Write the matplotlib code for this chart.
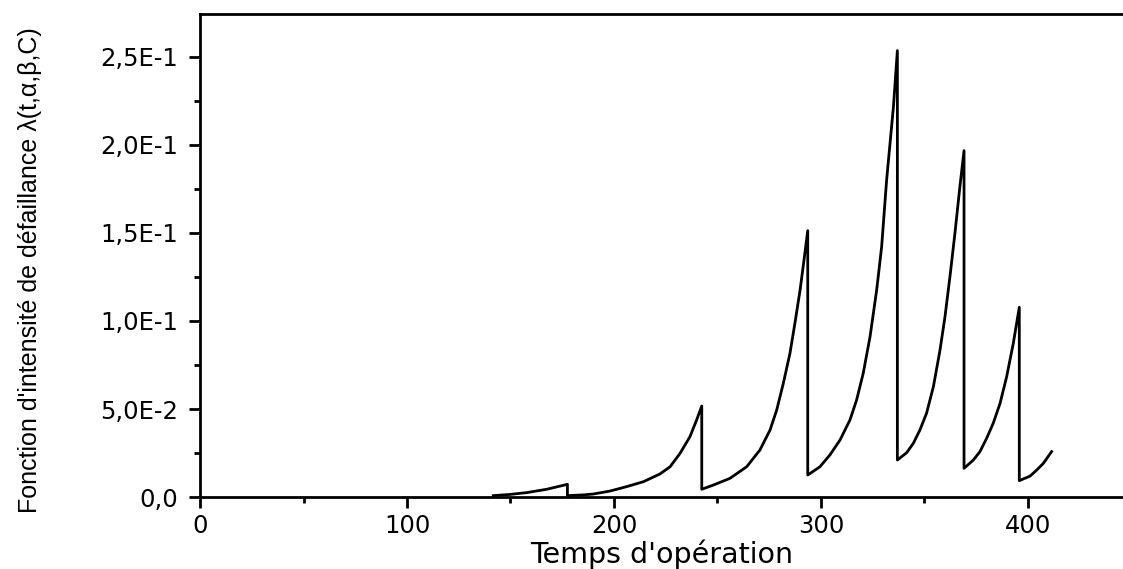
import numpy as np
import matplotlib
matplotlib.use("Agg")
import matplotlib.pyplot as plt
from matplotlib.ticker import MultipleLocator, FuncFormatter

# values (vertical drops = repeated time value)
temps = [141.7, 150.0, 157.8, 167.5, 177.5,
         177.5, 185.0, 190.0, 198.1, 206.1, 214.2, 222.2, 227.1, 231.9, 236.7, 239.9, 242.4,
         242.4, 248.0, 256.0, 264.1, 270.5, 275.4, 278.6, 281.8, 285.0, 287.4, 289.9, 291.8, 293.6,
         293.6, 299.5, 304.3, 309.2, 314.0, 317.2, 320.4, 323.7, 326.9, 329.3, 331.7, 335.0, 336.9,
         336.9, 341.4, 344.6, 347.8, 351.0, 354.3, 357.5, 359.9, 362.3, 364.7, 367.1, 369.1,
         369.1, 373.6, 376.8, 380.0, 383.2, 386.5, 389.7, 392.9, 395.8,
         395.8, 401.0, 404.2, 407.4, 411.4]
intensite = [0.0008, 0.0015, 0.0025, 0.0044, 0.0072,
             0.0008, 0.0012, 0.0017, 0.0034, 0.0059, 0.0087, 0.0131, 0.0172, 0.0248, 0.0343, 0.0437, 0.0517,
             0.0044, 0.0068, 0.0106, 0.0172, 0.0267, 0.0381, 0.0494, 0.0646, 0.0816, 0.0987, 0.1176, 0.1347, 0.1513,
             0.0125, 0.0172, 0.0239, 0.0324, 0.0438, 0.0551, 0.0703, 0.0911, 0.1176, 0.1422, 0.1800, 0.2218, 0.2536,
             0.0210, 0.0252, 0.0305, 0.0381, 0.0476, 0.0627, 0.0835, 0.1024, 0.1252, 0.1498, 0.1763, 0.1968,
             0.0163, 0.0210, 0.0258, 0.0333, 0.0419, 0.0532, 0.0684, 0.0873, 0.1078,
             0.0093, 0.0119, 0.0153, 0.0191, 0.0258]

x_ticks = [0, 100, 200, 300, 400]
y_ticks = [0.0, 0.05, 0.10, 0.15, 0.20, 0.25]


def fmt_sci(v, pos):
    if abs(v) < 1e-12:
        return "0,0"
    e = int(np.floor(np.log10(abs(v)) + 1e-9))
    m = v / 10**e
    return ("%.1fE%d" % (m, e)).replace(".", ",")


fig = plt.figure(figsize=(11.23, 5.69), dpi=100)
ax = fig.add_axes([0.1781, 0.1265, 0.8219, 0.8489])

ax.plot(temps, intensite, color="black", lw=2.0)

ax.set_xlim(0, 445.9)
ax.set_ylim(0, 0.2744)
ax.set_xticks(x_ticks)
ax.set_yticks(y_ticks)
ax.xaxis.set_minor_locator(MultipleLocator(50))
ax.yaxis.set_minor_locator(MultipleLocator(0.025))
ax.yaxis.set_major_formatter(FuncFormatter(fmt_sci))

ax.spines["right"].set_visible(False)
for s in ["left", "bottom", "top"]:
    ax.spines[s].set_linewidth(2.0)

ax.tick_params(which="major", direction="out", length=8, width=2.0)
ax.tick_params(which="minor", direction="out", length=4.5, width=2.0)
ax.tick_params(axis="x", which="major", pad=4)
ax.tick_params(axis="y", which="major", pad=8)
for lbl in ax.get_xticklabels() + ax.get_yticklabels():
    lbl.set_fontfamily("DejaVu Sans")
    lbl.set_fontsize(17.5)

ax.set_xlabel("Temps d'opération", fontfamily="DejaVu Sans", fontsize=20.5, labelpad=1)
ax.set_ylabel("Fonction d'intensité de défaillance λ(t,α,β,C)",
              fontfamily="Liberation Sans", fontsize=18)
ax.yaxis.set_label_coords(-0.171, 0.47)

plt.savefig("out.png", dpi=100)
